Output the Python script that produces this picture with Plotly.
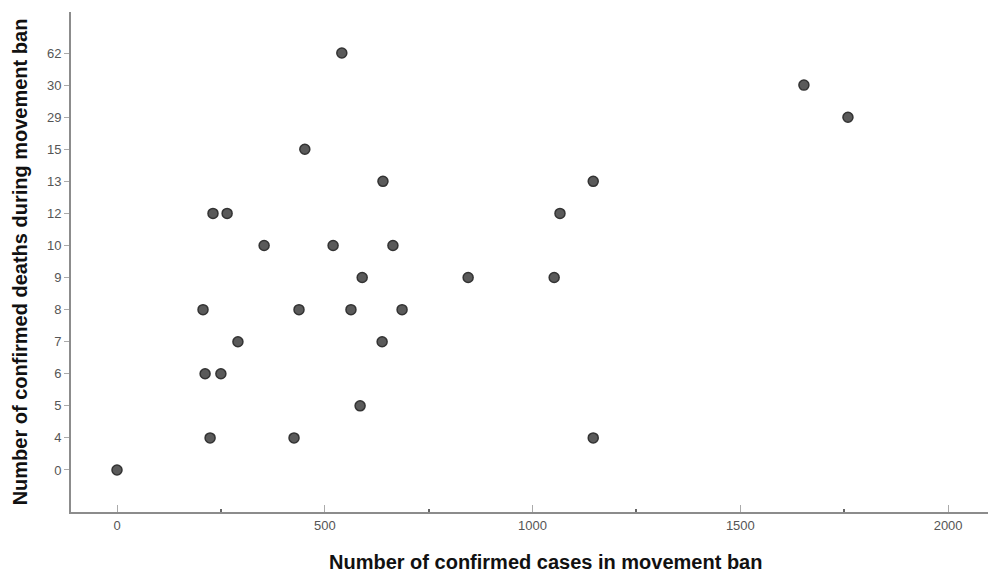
import plotly.graph_objects as go

# Data
y_categories = ["0", "4", "5", "6", "7", "8", "9", "10", "12", "13", "15", "29", "30", "62"]

cases = [0,
         224, 426, 1146,
         585,
         212, 250,
         291, 638,
         207, 438, 563, 686,
         590, 845, 1052,
         354, 520, 664,
         231, 265, 1066,
         640, 1146,
         452,
         1759,
         1653,
         541]
deaths = ["0",
          "4", "4", "4",
          "5",
          "6", "6",
          "7", "7",
          "8", "8", "8", "8",
          "9", "9", "9",
          "10", "10", "10",
          "12", "12", "12",
          "13", "13",
          "15",
          "29",
          "30",
          "62"]

x_ticks = [0, 500, 1000, 1500, 2000]

fig = go.Figure()
fig.add_trace(go.Scatter(
    x=cases, y=deaths, mode="markers",
    marker=dict(size=10, color="#5a5a5a", line=dict(color="#333333", width=1.5)),
    showlegend=False,
))

axis_col = "#8c8c8c"
title_font = dict(size=20, color="#111111", family="Liberation Sans, Arial, sans-serif", weight="bold")
fig.update_layout(
    width=988, height=572,
    margin=dict(l=71, r=0, t=12, b=60),
    paper_bgcolor="white", plot_bgcolor="white",
    font=dict(family="Liberation Sans, Arial, sans-serif", color="#555555", size=13),
    xaxis=dict(
        range=[-110.7, 2096],
        tickvals=x_ticks,
        ticks="inside", ticklen=7, tickcolor="#aaaaaa", tickwidth=1,
        minor=dict(tickvals=[250, 750, 1250, 1750], ticks="inside", ticklen=3,
                   tickcolor="#666666", tickwidth=2),
        showgrid=False, zeroline=False,
        showline=True, linecolor=axis_col, linewidth=2,
        tickfont=dict(size=13, color="#555555"),
    ),
    yaxis=dict(
        type="category",
        categoryorder="array", categoryarray=y_categories,
        range=[-1.31, 14.28],
        ticks="outside", ticklen=5, tickcolor="#aaaaaa", tickwidth=1,
        showgrid=False, zeroline=False,
        showline=True, linecolor=axis_col, linewidth=2,
        tickfont=dict(size=13, color="#555555"),
        title=dict(text="Number of confirmed deaths during movement ban",
                   font=title_font, standoff=14),
    ),
    annotations=[dict(
        text="Number of confirmed cases in movement ban",
        xref="paper", yref="paper", x=0.517, y=-0.1,
        xanchor="center", yanchor="middle", showarrow=False,
        font=title_font,
    )],
)

fig.write_html("out.html")
